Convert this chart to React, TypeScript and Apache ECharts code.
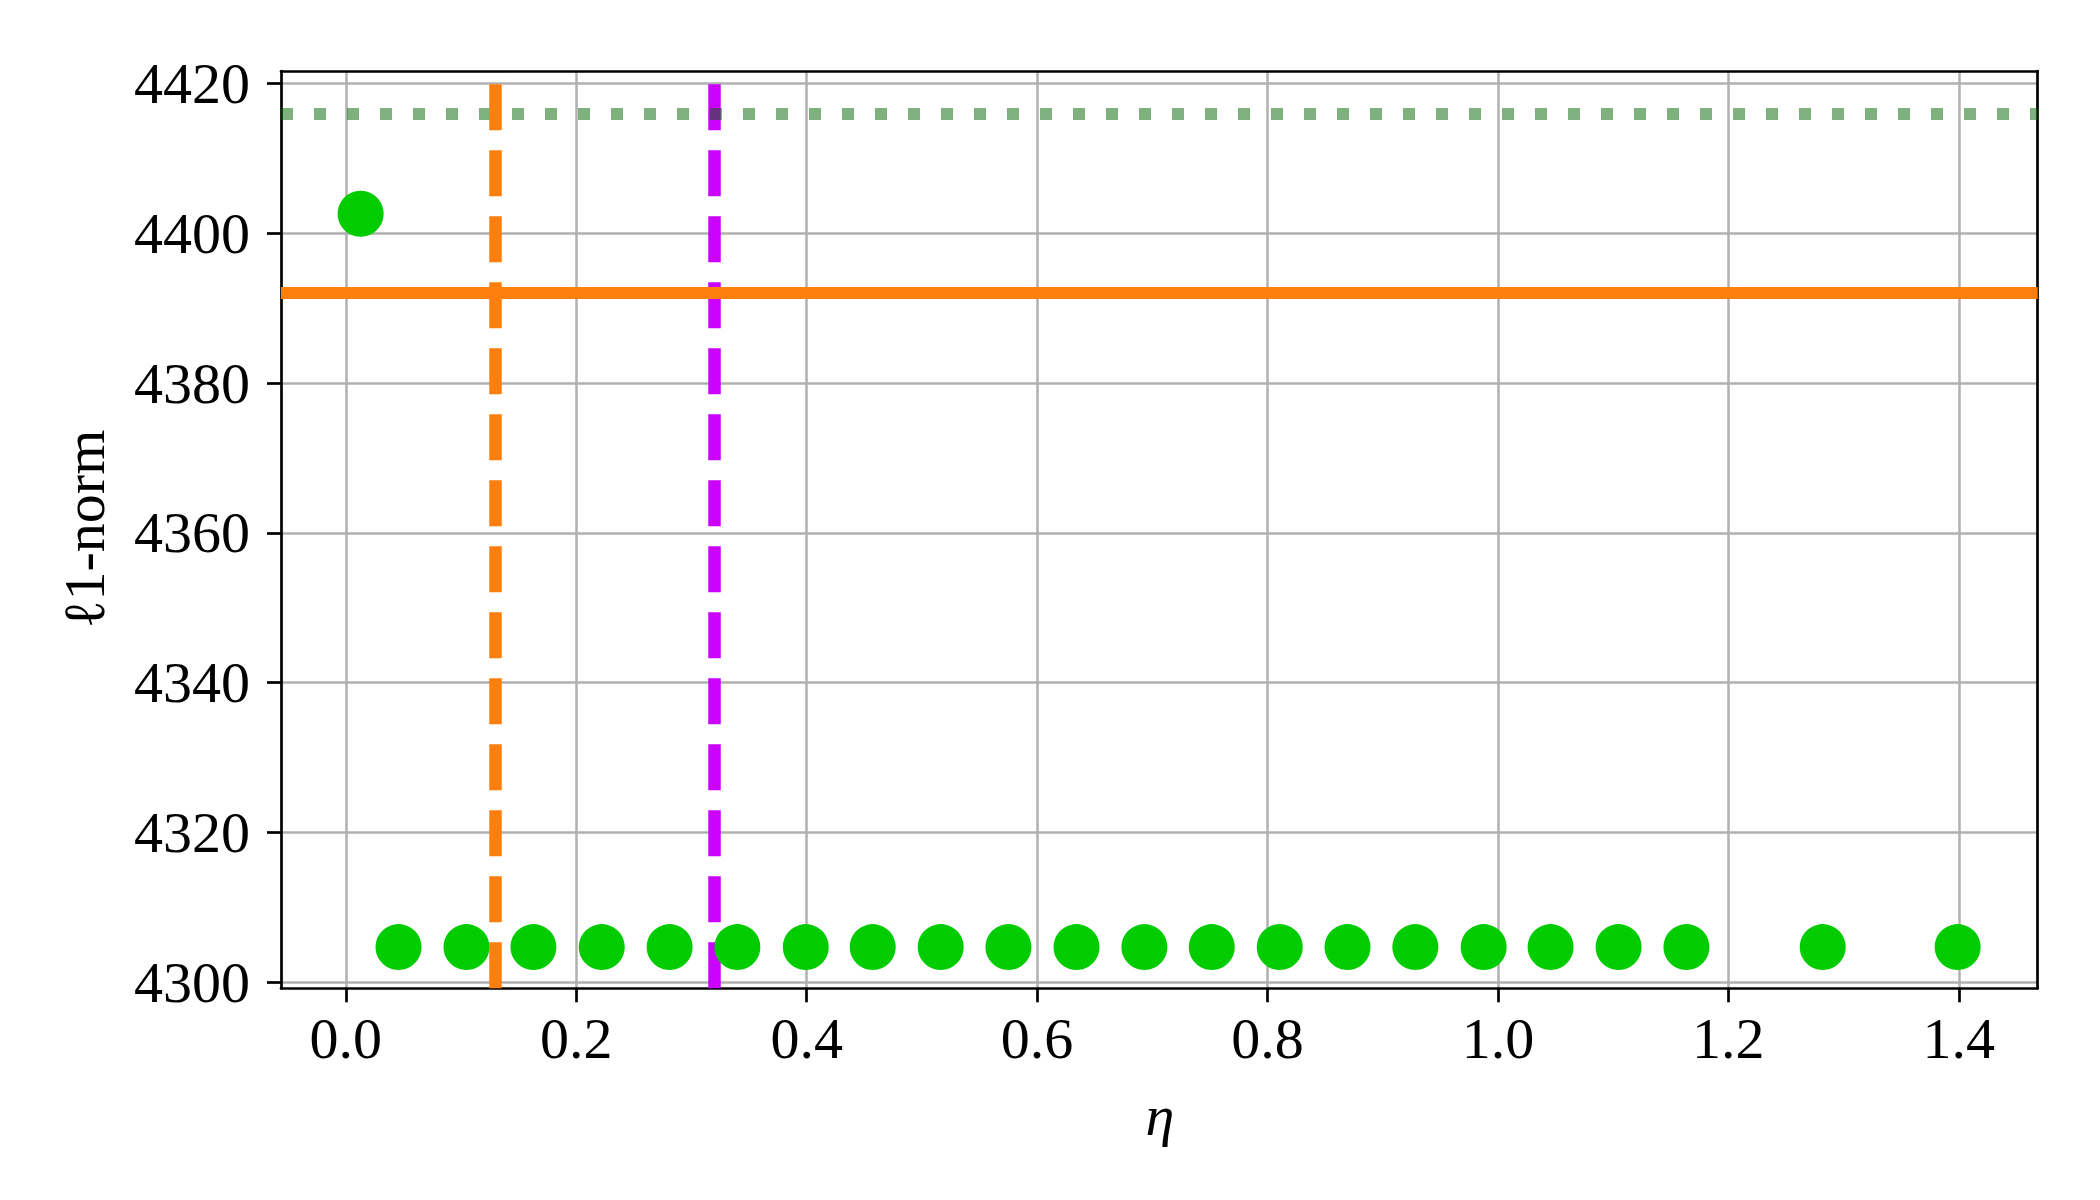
import React, { useEffect, useRef } from "react";
import * as echarts from "echarts";

const etaValues = [
  0.0128, 0.0457, 0.1047, 0.1628, 0.2221, 0.281, 0.3398, 0.3992, 0.4573, 0.5163, 0.5751, 0.6342,
  0.6931, 0.7516, 0.8106, 0.8694, 0.9283, 0.9876, 1.0457, 1.1047, 1.1636, 1.2819, 1.399,
];
const l1NormValues = [
  4402.6, 4304.7, 4304.7, 4304.7, 4304.7, 4304.7, 4304.7, 4304.7, 4304.7, 4304.7, 4304.7, 4304.7,
  4304.7, 4304.7, 4304.7, 4304.7, 4304.7, 4304.7, 4304.7, 4304.7, 4304.7, 4304.7, 4304.7,
];
const xTicks = [0, 0.2, 0.4, 0.6, 0.8, 1.0, 1.2, 1.4];
const yTicks = [4300, 4320, 4340, 4360, 4380, 4400, 4420];
const orangeHLine = 4392.1;
const greenDottedHLine = 4416.0;
const orangeVLine = 0.1306;
const purpleVLine = 0.3166;

const X_MIN = -0.0563;
const X_MAX = 1.4685;
const Y_MIN = 4299.2;
const Y_MAX = 4421.65;

const FONT = "'Liberation Serif', 'Times New Roman', serif";

export default function App() {
  const ref = useRef<HTMLDivElement>(null);
  useEffect(() => {
    document.body.style.margin = "0";
    const chart = echarts.init(ref.current!, null, { renderer: "svg" });
    const lineMark = (axis: "xAxis" | "yAxis", value: number, color: string, dash: number[], width: number) => ({
      silent: true,
      symbol: ["none", "none"],
      label: { show: false },
      emphasis: { disabled: true },
      lineStyle: { color, width, type: dash, cap: "butt", opacity: 1 },
      data: [{ [axis]: value }],
    });
    const option: any = {
      animation: false,
      backgroundColor: "#ffffff",
      grid: { left: 281, top: 71, right: 62.3, bottom: 211.7, containLabel: false },
      xAxis: [
        {
          type: "value",
          min: X_MIN,
          max: X_MAX,
          position: "bottom",
          axisLine: { show: true, onZero: false, lineStyle: { color: "#000", width: 2.7 } },
          axisTick: { show: true, length: 14, lineStyle: { color: "#000", width: 2.7 }, customValues: xTicks },
          axisLabel: {
            show: true,
            customValues: xTicks,
            formatter: (v: number) => v.toFixed(1),
            fontFamily: FONT,
            fontSize: 58,
            lineHeight: 58,
            color: "#000",
            margin: 21,
          },
          splitLine: { show: true, lineStyle: { color: "#b0b0b0", width: 2.5 } },
        },
        {
          type: "value",
          min: X_MIN,
          max: X_MAX,
          position: "top",
          axisLine: { show: true, onZero: false, lineStyle: { color: "#000", width: 2.7 } },
          axisTick: { show: false },
          axisLabel: { show: false },
          splitLine: { show: false },
        },
      ],
      yAxis: [
        {
          type: "value",
          min: Y_MIN,
          max: Y_MAX,
          position: "left",
          axisLine: { show: true, onZero: false, lineStyle: { color: "#000", width: 2.7 } },
          axisTick: { show: true, length: 14, lineStyle: { color: "#000", width: 2.7 }, customValues: yTicks },
          axisLabel: {
            show: true,
            customValues: yTicks,
            formatter: (v: number) => String(Math.round(v)),
            fontFamily: FONT,
            fontSize: 58,
            lineHeight: 58,
            color: "#000",
            margin: 31,
          },
          splitLine: { show: true, lineStyle: { color: "#b0b0b0", width: 2.5 } },
        },
        {
          type: "value",
          min: Y_MIN,
          max: Y_MAX,
          position: "right",
          axisLine: { show: true, onZero: false, lineStyle: { color: "#000", width: 2.7 } },
          axisTick: { show: false },
          axisLabel: { show: false },
          splitLine: { show: false },
        },
      ],
      series: [
        {
          type: "scatter",
          name: "purpleV",
          data: [],
          z: 2,
          markLine: lineMark("xAxis", purpleVLine, "#cc00ff", [46, 20], 12.5),
        },
        {
          type: "scatter",
          name: "greenDotted",
          data: [],
          z: 3,
          markLine: lineMark("yAxis", greenDottedHLine, "rgba(0,100,0,0.5)", [12, 21], 12),
        },
        {
          type: "scatter",
          name: "orangeV",
          data: [],
          z: 4,
          markLine: lineMark("xAxis", orangeVLine, "#ff7f0e", [46, 20], 12.5),
        },
        {
          type: "scatter",
          name: "orangeH",
          data: [],
          z: 4,
          markLine: lineMark("yAxis", orangeHLine, "#ff7f0e", [], 12),
        },
        {
          type: "scatter",
          name: "points",
          z: 6,
          symbol: "circle",
          symbolSize: 46,
          itemStyle: { color: "#00cc00", opacity: 1 },
          emphasis: { disabled: true },
          data: etaValues.map((x, i) => [x, l1NormValues[i]]),
        },
      ],
      graphic: [
        {
          type: "text",
          x: 1160,
          y: 1115,
          style: {
            text: "η",
            fontFamily: FONT,
            fontStyle: "italic",
            fontSize: 58,
            fill: "#000",
            align: "center",
            verticalAlign: "middle",
          },
        },
        {
          type: "text",
          x: 84,
          y: 529,
          rotation: Math.PI / 2,
          style: {
            text: "ℓ1-norm",
            fontFamily: FONT,
            fontSize: 58,
            fill: "#000",
            align: "center",
            verticalAlign: "middle",
          },
        },
      ],
    };
    // replace empty dash array for solid line
    option.series[3].markLine.lineStyle.type = "solid";
    chart.setOption(option);
    return () => chart.dispose();
  }, []);
  return (
    <div
      ref={ref}
      style={{ position: "fixed", left: 0, top: 0, width: 2100, height: 1200, background: "#fff" }}
    />
  );
}
